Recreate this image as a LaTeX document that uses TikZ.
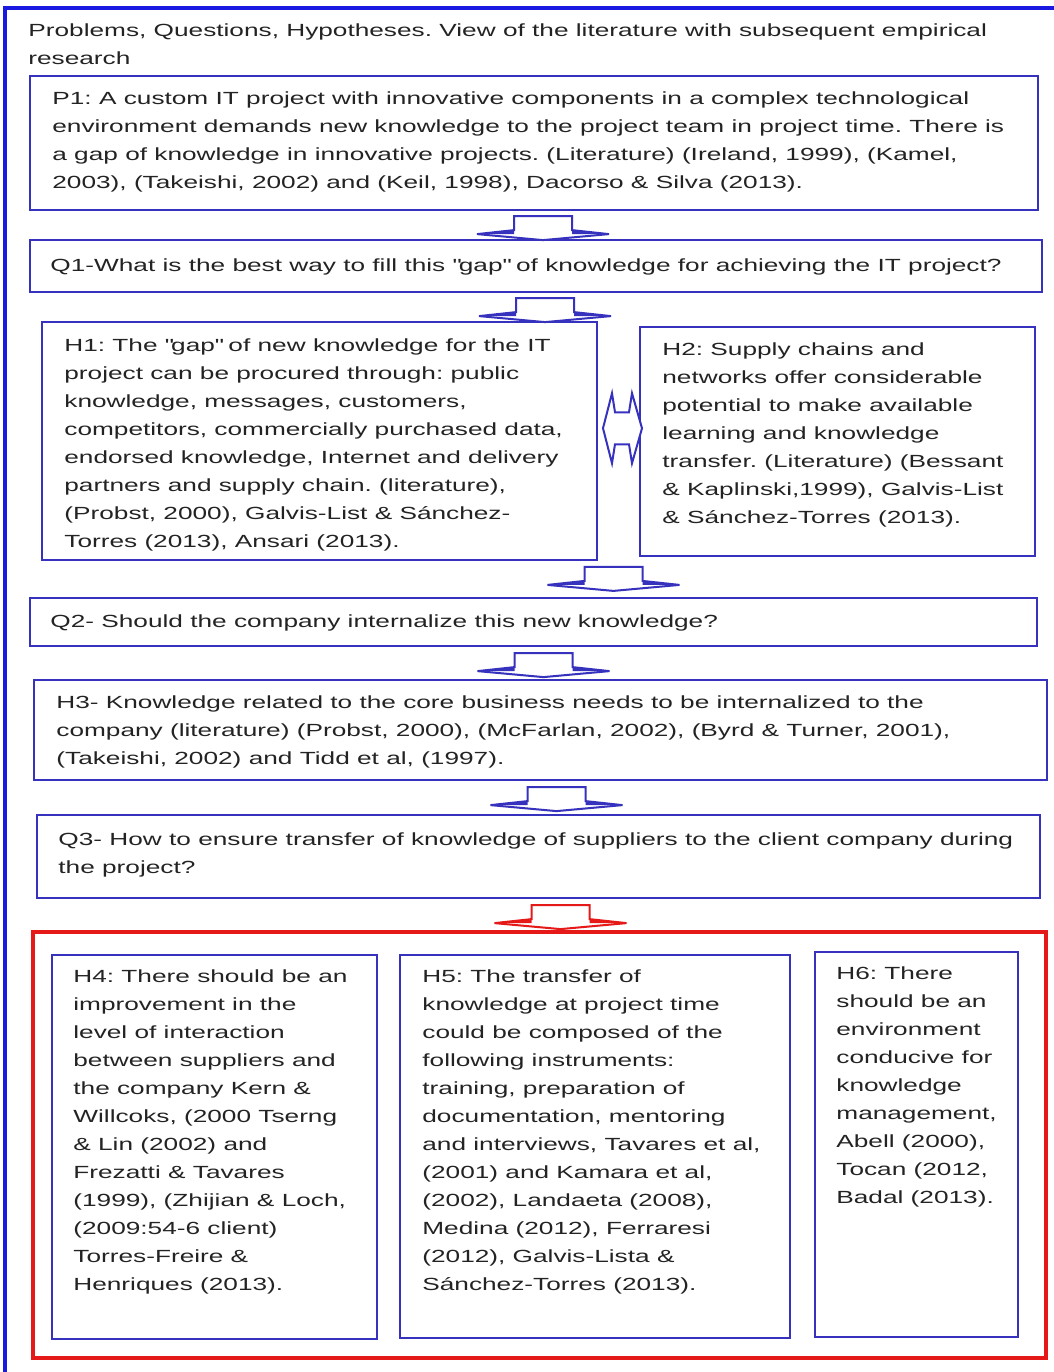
\documentclass[tikz,border=0pt]{standalone}
\usepackage{fontspec}
\setmainfont{Liberation Sans}[FakeStretch=1.49]
\usetikzlibrary{positioning,calc,fit}
\definecolor{boxblue}{RGB}{55,50,190}
\definecolor{frameblue}{RGB}{25,25,225}
\definecolor{framered}{RGB}{230,25,25}
\definecolor{txtgray}{RGB}{35,35,35}
\frenchspacing

\begin{document}
\begin{tikzpicture}[x=0.5pt,y=-0.5pt,
  box/.style={draw=boxblue,line width=1.1pt,inner sep=0pt},
  redbox/.style={draw=framered,line width=2.3pt,inner sep=0pt},
  txt/.style={anchor=north west,align=left,inner sep=0pt,text=txtgray,font=\fontsize{8.8}{14}\selectfont},
  downblk/.pic={\draw[line width=1pt,fill=white,draw=#1] (-29,0) -- (29,0) -- (29,14) -- (66,18) -- (0,24) -- (-66,18) -- (-29,14) -- cycle;
    \fill[#1] (29,14) -- (66,18) -- (29,18) -- cycle (-29,14) -- (-66,18) -- (-29,18) -- cycle;},
  dblk/.pic={\draw[line width=1pt,fill=white,draw=boxblue] (-19,0) -- (-10,-35) -- (-7,-16) -- (7,-16) -- (10,-35) -- (20,0) -- (10,35) -- (7,16) -- (-7,16) -- (-10,35) -- cycle;}]
\useasboundingbox (0,0) rectangle (1054,1372);
% outer frame (cut at the page edge)
\draw[frameblue,line width=1.6pt] (5,1372) -- (5,8) -- (1054,8);
\node[txt] (ttl) at (28,23.5) {Problems, Questions, Hypotheses. View of the literature with subsequent empirical\\research};
% problem and questions
\node[box,fit={(30,76) (1038,210)}] (p1) {};
\node[txt] (p1t) at (52,91.5) {P1: A custom IT project with innovative components in a complex technological\\
environment demands new knowledge to the project team in project time. There is\\
a gap of knowledge in innovative projects. (Literature) (Ireland, 1999), (Kamel,\\
2003), (Takeishi, 2002) and (Keil, 1998), Dacorso \& Silva (2013).};
\node[box,fit={(30,240) (1042,292)}] (q1) {};
\node[txt] (q1t) at (50,258.5) {Q1-What is the best way to fill this \textquotedbl gap\textquotedbl{} of knowledge for achieving the IT project?};
\node[box,fit={(42,322) (597,560)}] (h1) {};
\node[txt] (h1t) at (64,338.5) {H1: The \textquotedbl gap\textquotedbl{} of new knowledge for the IT\\
project can be procured through: public\\
knowledge, messages, customers,\\
competitors, commercially purchased data,\\
endorsed knowledge, Internet and delivery\\
partners and supply chain. (literature),\\
(Probst, 2000), Galvis-List \& Sánchez-\\
Torres (2013), Ansari (2013).};
\node[box,fit={(640,327) (1035,556)}] (h2) {};
\node[txt] (h2t) at (662,342.5) {H2: Supply chains and\\
networks offer considerable\\
potential to make available\\
learning and knowledge\\
transfer. (Literature) (Bessant\\
\& Kaplinski,1999), Galvis-List\\
\& Sánchez-Torres (2013).};
\node[box,fit={(30,598) (1037,646)}] (q2) {};
\node[txt] (q2t) at (50,614.5) {Q2- Should the company internalize this new knowledge?};
\node[box,fit={(34,680) (1047,780)}] (h3) {};
\node[txt] (h3t) at (56,695.5) {H3- Knowledge related to the core business needs to be internalized to the\\
company (literature) (Probst, 2000), (McFarlan, 2002), (Byrd \& Turner, 2001),\\
(Takeishi, 2002) and Tidd et al, (1997).};
\node[box,fit={(37,815) (1040,898)}] (q3) {};
\node[txt] (q3t) at (58,832.5) {Q3- How to ensure transfer of knowledge of suppliers to the client company during\\
the project?};
% final hypotheses (red frame)
\node[redbox,fit={(33,932) (1046,1358)}] (fin) {};
\node[box,fit={(52,955) (377,1339)}] (h4) {};
\node[txt] (h4t) at (73,969.5) {H4: There should be an\\
improvement in the\\
level of interaction\\
between suppliers and\\
the company Kern \&\\
Willcoks, (2000 Tserng\\
\& Lin (2002) and\\
Frezatti \& Tavares\\
(1999), (Zhijian \& Loch,\\
(2009:54-6 client)\\
Torres-Freire \&\\
Henriques (2013).};
\node[box,fit={(400,955) (790,1338)}] (h5) {};
\node[txt] (h5t) at (422,969.5) {H5: The transfer of\\
knowledge at project time\\
could be composed of the\\
following instruments:\\
training, preparation of\\
documentation, mentoring\\
and interviews, Tavares et al,\\
(2001) and Kamara et al,\\
(2002), Landaeta (2008),\\
Medina (2012), Ferraresi\\
(2012), Galvis-Lista \&\\
Sánchez-Torres (2013).};
\node[box,fit={(815,952) (1018,1337)}] (h6) {};
\node[txt] (h6t) at (836,966.5) {H6: There\\
should be an\\
environment\\
conducive for\\
knowledge\\
management,\\
Abell (2000),\\
Tocan (2012,\\
Badal (2013).};
% block arrows
\pic at ($(p1.south)+(9,5)$) {downblk=boxblue};
\pic at ($(q1.south)+(9,5)$) {downblk=boxblue};
\pic at ($(h1.east)!0.5!(h2.west)+(3.5,-13)$) {dblk};
\pic at ($(q2.north)+(80,-30)$) {downblk=boxblue};
\pic at ($(q2.south)+(10,6)$) {downblk=boxblue};
\pic at ($(h3.south)+(16,6)$) {downblk=boxblue};
\pic at ($(q3.south)+(22,6)$) {downblk=framered};
\end{tikzpicture}
\end{document}
